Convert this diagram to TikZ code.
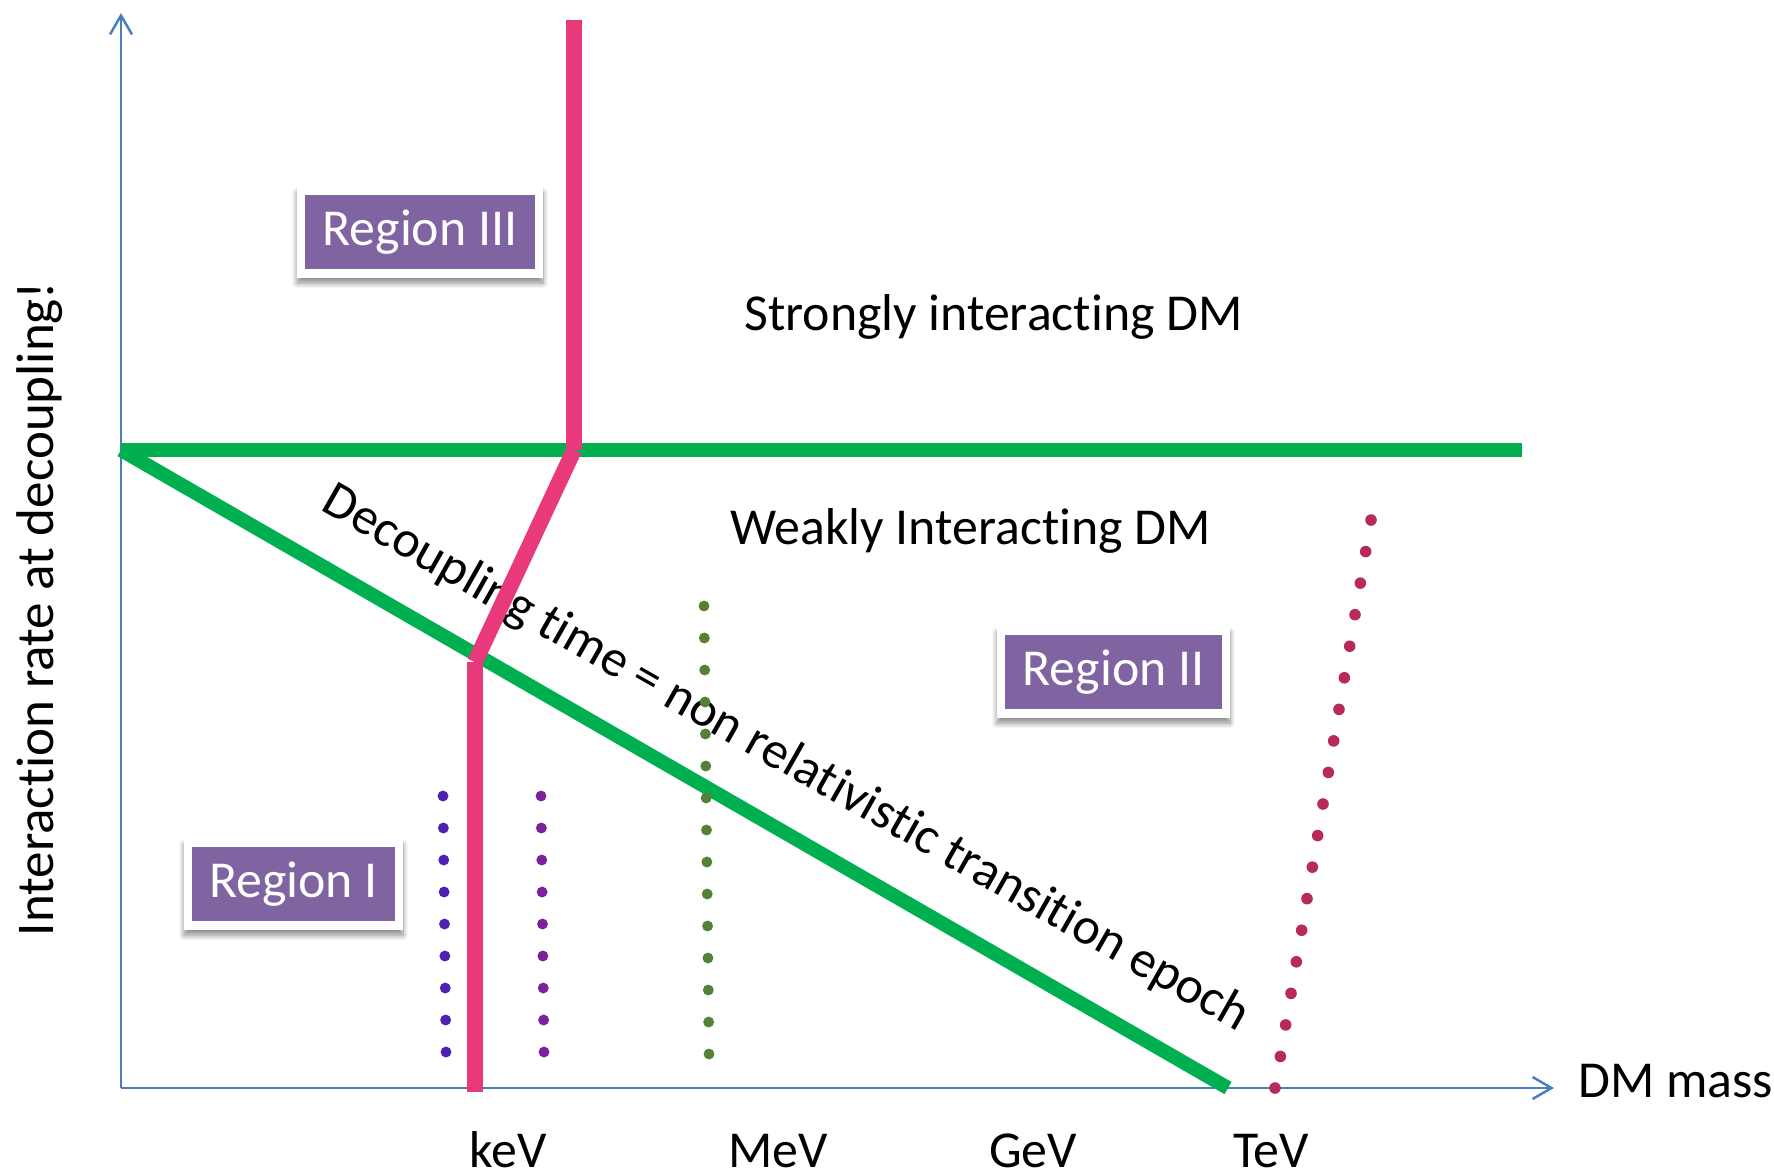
\documentclass[tikz,border=0pt]{standalone}
\usepackage{fontspec}
\setmainfont{Carlito}[Ligatures={NoCommon,NoContextual}]
\usetikzlibrary{arrows.meta,shadows.blur}
\definecolor{axisblue}{HTML}{4A7EBB}
\definecolor{lgreen}{HTML}{00B050}
\definecolor{lpink}{HTML}{E83A7A}
\definecolor{regpurple}{HTML}{8064A2}
\definecolor{dotblue}{HTML}{4B22B4}
\definecolor{dotpurple}{HTML}{7E209E}
\definecolor{dotgreen}{HTML}{538135}
\definecolor{dotred}{HTML}{B92A5C}
\begin{document}
\begin{tikzpicture}[x=0.02cm,y=-0.02cm,
  txt/.style={font=\fontsize{29.5}{34}\selectfont, inner sep=0pt, text=black},
  axisline/.style={draw=axisblue, line width=1.4pt, -{Straight Barb[length=10.8pt,width=12.5pt,line width=1.4pt]}},
  greenline/.style={draw=lgreen, line width=8pt},
  pinkline/.style={draw=lpink, line width=9pt},
  regframe/.style={fill=white, draw=none, inner sep=0pt, minimum height=91*0.02cm,
    blur shadow={shadow xshift=0pt, shadow yshift=-3pt, shadow blur radius=3pt, shadow blur steps=10, shadow opacity=45}},
  regbox/.style={fill=regpurple, draw=none, text=white,
    font=\fontsize{29.5}{34}\selectfont, inner sep=0pt, minimum height=74*0.02cm},
]
\useasboundingbox (0,0) rectangle (1774,1171);

% coordinates
\coordinate (O) at (121,1088);
\coordinate (ytop) at (121,13);
\coordinate (xend) at (1554,1088);
\coordinate (gL) at (121,450);
\coordinate (gR) at (1522,450);
\coordinate (gD) at (1228,1088);
\coordinate (p1) at (574,20);
\coordinate (p2) at (574,450);
\coordinate (p3) at (475,662);
\coordinate (p4) at (475,1092);

% axes
\draw[axisline] (O) -- (ytop);
\draw[axisline] (O) -- (xend);

% green lines
\draw[greenline] (gL) -- (gR);
\draw[greenline] (gL) -- (gD);

% diagonal text
\node[txt, anchor=base, rotate=-29.6] (diag) at (779,771) {Decoupling time = non relativistic transition epoch};

% pink line
\draw[pinkline] (p1) -- (p2);
\draw[pinkline] (p2) -- (p3);
\draw[pinkline] (p3) -- (p4);

% dotted lines
\foreach \i in {0,...,8} {
  \fill[dotblue] ({443+3*\i/8},{796+32*\i}) circle (3.1pt);
  \fill[dotpurple] ({541+3*\i/8},{796+32*\i}) circle (3.1pt);
}
\foreach \i in {0,...,14} {
  \fill[dotgreen] ({704+5*\i/14},{606+32*\i}) circle (3.1pt);
}
\foreach \i in {0,...,18} {
  \fill[dotred] ({1371-96*\i/18},{520+568*\i/18}) circle (3.3pt);
}

% region boxes
\node[regframe, minimum width=246*0.02cm] (r3f) at (420,232.5) {};
\node[regbox, minimum width=230*0.02cm] (r3) at (420,232) {Region III};
\node[regframe, minimum width=233*0.02cm] (r2f) at (1113.5,672.5) {};
\node[regbox, minimum width=217*0.02cm] (r2) at (1113.5,672) {Region II};
\node[regframe, minimum width=219*0.02cm] (r1f) at (293.5,884.5) {};
\node[regbox, minimum width=203*0.02cm] (r1) at (293.5,884) {Region I};

% texts
\node[txt, anchor=base west] (strong) at (744,330) {Strongly interacting DM};
\node[txt, anchor=base west] (weak) at (730,544) {Weakly Interacting DM};
\node[txt, anchor=base west] (xlab) at (1578,1097) {DM mass};
\node[txt, anchor=base, rotate=90, font=\fontsize{30.2}{36}\selectfont] (ylab) at (53,609) {Interaction rate at decoupling!};

\node[txt, anchor=base] (kev) at (508,1167) {keV};
\node[txt, anchor=base] (mev) at (778,1167) {MeV};
\node[txt, anchor=base] (gev) at (1033,1167) {GeV};
\node[txt, anchor=base] (tev) at (1271,1167) {TeV};
\end{tikzpicture}
\end{document}
